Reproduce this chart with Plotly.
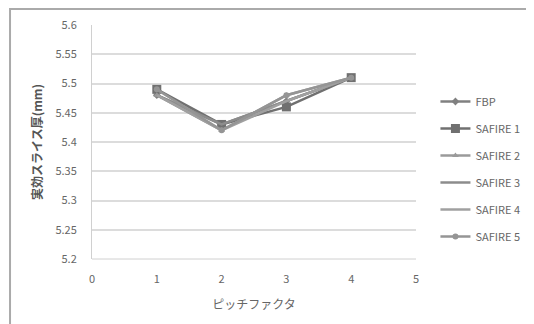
import plotly.graph_objects as go

x_vals = [1, 2, 3, 4]
series_names = ["FBP", "SAFIRE 1", "SAFIRE 2", "SAFIRE 3", "SAFIRE 4", "SAFIRE 5"]
fbp = [5.48, 5.43, 5.47, 5.51]
safire1 = [5.49, 5.43, 5.46, 5.51]
safire2 = [5.48, 5.42, 5.48, 5.51]
safire3 = [5.48, 5.43, 5.47, 5.51]
safire4 = [5.48, 5.42, 5.47, 5.51]
safire5 = [5.49, 5.42, 5.48, 5.51]
all_series = [fbp, safire1, safire2, safire3, safire4, safire5]
x_ticks = [0, 1, 2, 3, 4, 5]
y_ticks = [5.2, 5.25, 5.3, 5.35, 5.4, 5.45, 5.5, 5.55, 5.6]
y_tick_labels = ["5.2", "5.25", "5.3", "5.35", "5.4", "5.45", "5.5", "5.55", "5.6"]

styles = [
    dict(color="#808080", symbol="diamond", size=6),
    dict(color="#707070", symbol="square", size=9),
    dict(color="#9a9a9a", symbol="triangle-up", size=6),
    dict(color="#8c8c8c", symbol="line-ew", size=1),
    dict(color="#a0a0a0", symbol="line-ew", size=1),
    dict(color="#959595", symbol="circle", size=6),
]

fig = go.Figure()
for i, (name, vals, st) in enumerate(zip(series_names, all_series, styles)):
    fig.add_trace(go.Scatter(
        x=x_vals, y=vals, name=name, mode="lines+markers", legendgroup=f"g{i}",
        line=dict(color=st["color"], width=2.5),
        marker=dict(color=st["color"], symbol=st["symbol"], size=st["size"]),
    ))

font = dict(family="Noto Sans CJK JP, Noto Sans, sans-serif", size=10, color="#666666")

fig.update_layout(
    width=534, height=324,
    margin=dict(l=84, r=126, t=17, b=73, autoexpand=False),
    paper_bgcolor="white", plot_bgcolor="white",
    font=font,
    showlegend=True,
    legend=dict(x=1.06, y=0.735, xanchor="left", yanchor="top",
                font=dict(size=11, color="#666666"), tracegroupgap=8,
                itemwidth=30, bgcolor="rgba(0,0,0,0)"),
    xaxis=dict(range=[0, 5], tickvals=x_ticks, showgrid=False, zeroline=False,
               showline=False, ticks="", ticklabelstandoff=12,
               tickfont=dict(size=11, color="#666666"),
               title=dict(text="ピッチファクタ", font=dict(size=12, color="#666666"), standoff=15)),
    yaxis=dict(range=[5.2, 5.6], tickvals=y_ticks, ticktext=y_tick_labels,
               showgrid=True, gridcolor="#dcdcdc", gridwidth=2, zeroline=False,
               showline=True, linecolor="#d0d0d0", ticks="", ticklabelstandoff=12,
               tickfont=dict(size=11, color="#666666"),
               title=dict(text="<b>実効スライス厚(mm)</b>", font=dict(size=12, color="#555555"), standoff=10)),
    shapes=[
        dict(type="rect", xref="paper", yref="paper",
             x0=-0.253, x1=1.4, y0=-0.4, y1=1.068,
             line=dict(color="#aaaaaa", width=2), fillcolor="rgba(0,0,0,0)", layer="below"),
        dict(type="line", xref="paper", yref="paper", x0=0, x1=1, y0=0, y1=0,
             line=dict(color="#d0d0d0", width=1)),
    ],
)

fig.write_html("out.html")
